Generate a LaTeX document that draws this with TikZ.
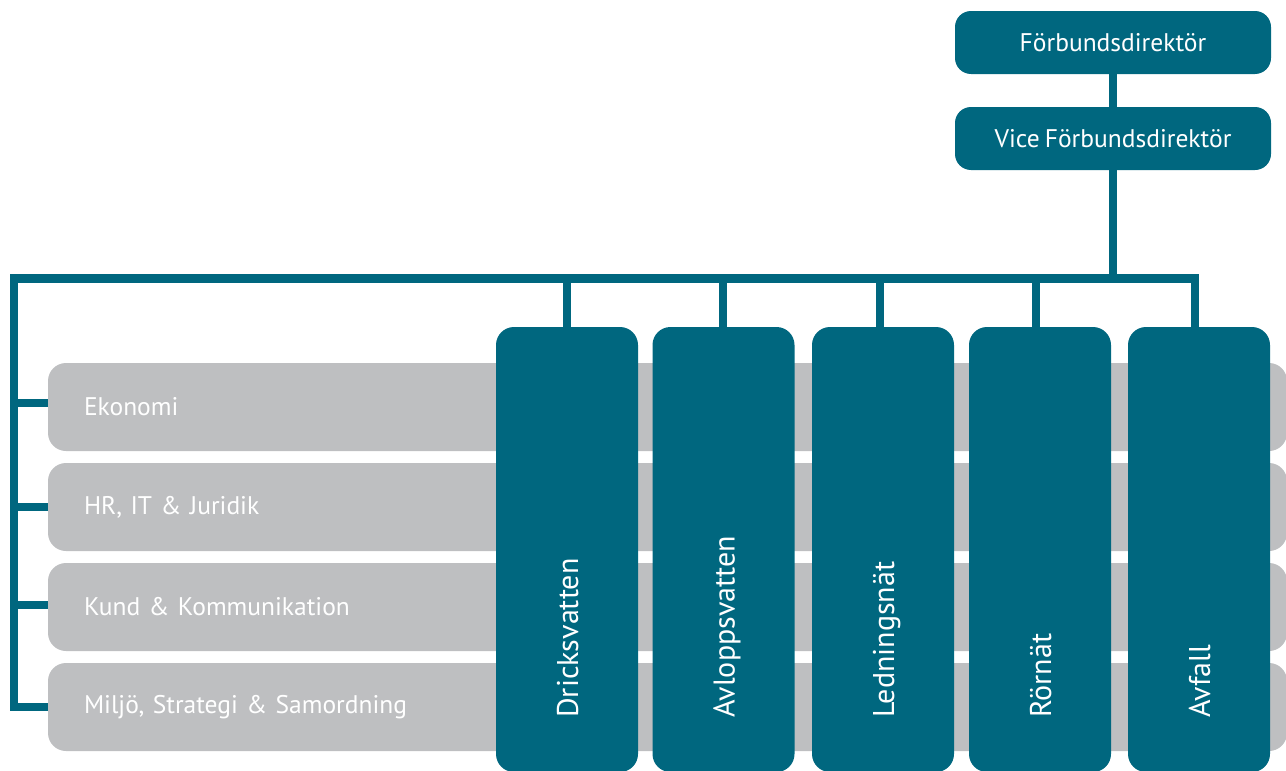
\documentclass[tikz,border=0pt]{standalone}
\usepackage{fontspec}
\setmainfont[WordSpace=0.75]{PT Sans}
\usetikzlibrary{calc}
\definecolor{teal}{HTML}{00677F}
\definecolor{bargray}{HTML}{BEBFC1}
\begin{document}
\begin{tikzpicture}[x=1pt,y=-1pt,
  topbox/.style={fill=teal, rounded corners=16pt, minimum width=316pt, minimum height=63pt, text=white, font=\fontsize{25.5}{28}\selectfont, inner sep=0pt},
  bar/.style={fill=bargray, rounded corners=18pt, minimum width=1239pt, minimum height=88pt, text width=1167pt, inner xsep=36pt, inner ysep=0pt, align=left, text=white, font=\fontsize{25.5}{28}\selectfont},
  col/.style={fill=teal, rounded corners=18pt, minimum width=142pt, minimum height=445pt, inner sep=0pt},
  collabel/.style={rotate=90, anchor=base west, text=white, inner sep=0pt, font=\fontsize{30}{32}\selectfont},
  conn/.style={draw=teal, line width=8.5pt}
]
\useasboundingbox (0,0) rectangle (1286,771);
\clip (0,0) rectangle (1286,771);

% top boxes
\node[topbox] (fd) at (1113,42.5) {Förbundsdirektör};
\node[topbox] (vfd) at (1113,138.5) {Vice Förbundsdirektör};

% gray bars
\node[bar] (b1) at (667.5,407) {Ekonomi};
\node[bar] (b2) at (667.5,507) {HR, IT \& Juridik};
\node[bar] (b3) at (667.5,607) {Kund \& Kommunikation};
\node[bar] (b4) at (667.5,707) {Miljö, Strategi \& Samordning};

% columns
\node[col] (c1) at (567,549.5) {};
\node[col] (c2) at (723.5,549.5) {};
\node[col] (c3) at (883,549.5) {};
\node[col] (c4) at (1040,549.5) {};
\node[col] (c5) at (1199,549.5) {};

\node[collabel] (l1) at (578,718) {Dricksvatten};
\node[collabel] (l2) at (734.5,718) {Avloppsvatten};
\node[collabel] (l3) at (894,718) {Ledningsnät};
\node[collabel] (l4) at (1051,718) {Rörnät};
\node[collabel] (l5) at (1210,718) {Avfall};

% connectors
\coordinate (hl) at (14,278.5);
\draw[conn] (fd.south) -- (vfd.north);
\draw[conn] (vfd.south) -- (vfd.south |- hl);
\draw[conn] ($(c5.north)+(-4,0)$) |- (hl) |- (b4.west);
\draw[conn] ($(hl |- b1.west)+(0,-4)$) -- ($(b1.west)+(0,-4)$);
\draw[conn] (hl |- b2.west) -- (b2.west);
\draw[conn] ($(hl |- b3.west)+(0,-2)$) -- ($(b3.west)+(0,-2)$);
\draw[conn] (c1.north) -- (c1.north |- hl);
\draw[conn] ($(c2.north)+(-0.5,0)$) -- ($(c2.north |- hl)+(-0.5,0)$);
\draw[conn] ($(c3.north)+(-3,0)$) -- ($(c3.north |- hl)+(-3,0)$);
\draw[conn] ($(c4.north)+(-4,0)$) -- ($(c4.north |- hl)+(-4,0)$);
\end{tikzpicture}
\end{document}
